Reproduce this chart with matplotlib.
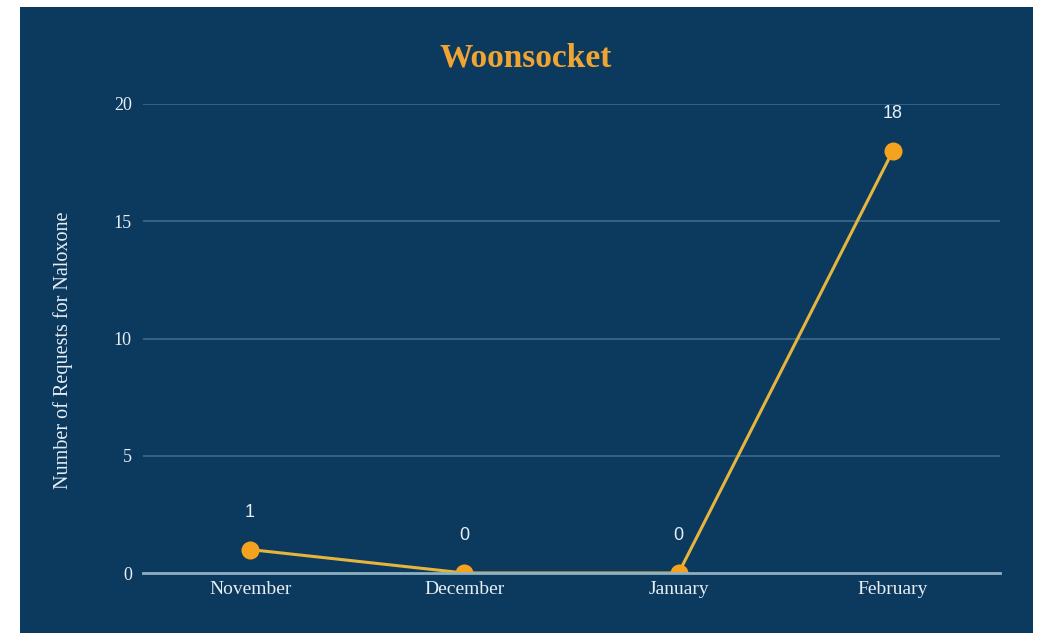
import matplotlib
matplotlib.use("Agg")
import matplotlib.pyplot as plt
from matplotlib.patches import Rectangle

months = ["November", "December", "January", "February"]
requests = [1, 0, 0, 18]
yticks = [0, 5, 10, 15, 20]
title = "Woonsocket"
ylabel = "Number of Requests for Naloxone"

BG = "#0c3a5e"
ORANGE = "#f5a21f"
LINE = "#e6b53c"
GRID = "#3d6b90"
ZERO = "#8eb0bf"
TXT = "#e8eef4"

fig = plt.figure(figsize=(10.43, 6.33), dpi=100)
fig.patch.set_facecolor("white")
panel = Rectangle((20/1043, 0), (1033-20)/1043, 1 - 7/633,
                  transform=fig.transFigure, facecolor=BG,
                  edgecolor="none", zorder=-10)
fig.add_artist(panel)

ax = fig.add_axes([143/1043, 1 - 573/633, (1000-143)/1043, (573-104)/633])
ax.set_zorder(1)
ax.patch.set_alpha(0)
x = list(range(len(months)))
ax.set_xlim(-0.5, len(months) - 0.5)
ax.set_ylim(0, 20)
ax.set_yticks(yticks)
ax.set_yticklabels([str(t) for t in yticks], fontfamily="Liberation Serif",
                   fontsize=13, color=TXT)
ax.set_xticks(x)
ax.set_xticklabels(months, fontfamily="Liberation Serif", fontsize=14, color=TXT)
ax.tick_params(length=0, pad=8)
ax.tick_params(axis="x", pad=6)
for s in ax.spines.values():
    s.set_visible(False)
for t in yticks[1:]:
    ax.axhline(t, color=GRID, lw=1.2, zorder=1)

ax.plot(x, requests, color=LINE, lw=2.2, zorder=3)
ax.plot(x, requests, "o", color=ORANGE, ms=13, zorder=4,
        markeredgewidth=0)
ax.axhline(0, color=ZERO, lw=2, zorder=5, clip_on=False)
for xi, v in zip(x, requests):
    ax.annotate(str(v), (xi, v), xytext=(0, 27), textcoords="offset points",
                ha="center", va="center", color=TXT, fontsize=13,
                fontfamily="Liberation Sans")

fig.text(526/1043, 1 - 58/633, title, ha="center", va="center",
         fontfamily="Liberation Serif", fontweight="bold", fontsize=24,
         color="#f0a532")
fig.text(63/1043, 1 - 350/633, ylabel, ha="center", va="center", rotation=90,
         fontfamily="Liberation Serif", fontsize=14.5, color=TXT)

fig.savefig("out.png", dpi=100, facecolor=fig.get_facecolor())
